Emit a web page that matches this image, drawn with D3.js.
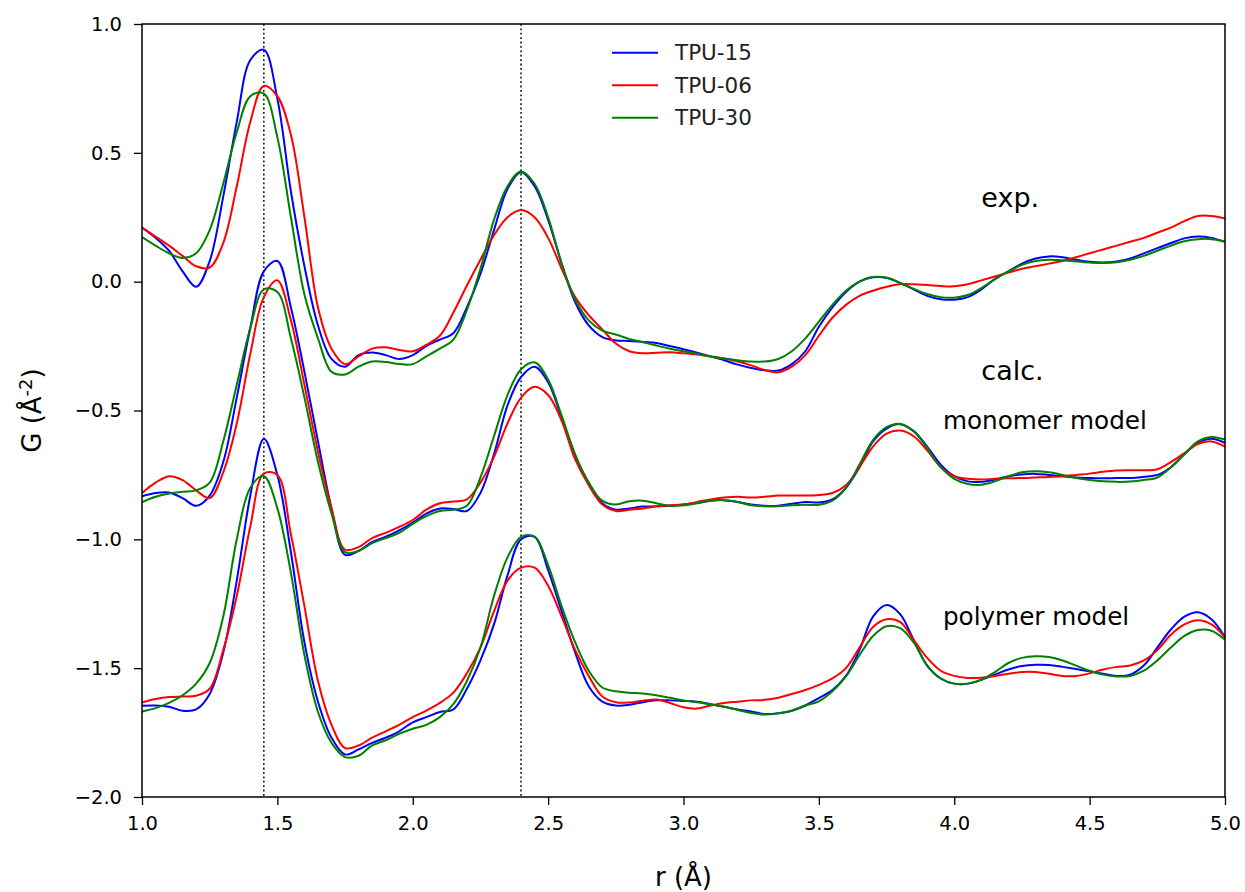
<!DOCTYPE html>
<html>
<head>
<meta charset="utf-8">
<script src="https://cdn.jsdelivr.net/npm/d3@7"></script>
<style>
    body { margin: 0; background: #fff; }
    svg { display: block; font-family: "DejaVu Sans", sans-serif; }
    .axis text { font-family: "DejaVu Sans", sans-serif; font-size: 19.5px; fill: #000; }
    .axis path { display: none; }
    .axis line { stroke: #000; stroke-width: 1.3; }
</style>
</head>
<body>
<svg id="chart" width="1245" height="892"></svg>
<script>

// 
// G(r) curves for three TPU samples: experiment, monomer model, polymer model.
// Values read off the reference picture, sampled every 0.05 Å.
// 

var r = [
    1.00, 1.05, 1.10, 1.15, 1.20, 1.25, 1.30, 1.35, 1.40, 1.45,
    1.50, 1.55, 1.60, 1.65, 1.70, 1.75, 1.80, 1.85, 1.90, 1.95,
    2.00, 2.05, 2.10, 2.15, 2.20, 2.25, 2.30, 2.35, 2.40, 2.45,
    2.50, 2.55, 2.60, 2.65, 2.70, 2.75, 2.80, 2.85, 2.90, 2.95,
    3.00, 3.05, 3.10, 3.15, 3.20, 3.25, 3.30, 3.35, 3.40, 3.45,
    3.50, 3.55, 3.60, 3.65, 3.70, 3.75, 3.80, 3.85, 3.90, 3.95,
    4.00, 4.05, 4.10, 4.15, 4.20, 4.25, 4.30, 4.35, 4.40, 4.45,
    4.50, 4.55, 4.60, 4.65, 4.70, 4.75, 4.80, 4.85, 4.90, 4.95,
    5.00
];

// experiment
var exp15 = [
    0.21, 0.17, 0.12, 0.04, -0.02, 0.08, 0.33, 0.62, 0.86, 0.90,
    0.71, 0.35, 0.06, -0.17, -0.30, -0.33, -0.285, -0.275, -0.285, -0.30,
    -0.285, -0.25, -0.225, -0.20, -0.10, 0.03, 0.20, 0.36, 0.425, 0.37,
    0.24, 0.07, -0.08, -0.17, -0.215, -0.228, -0.23, -0.234, -0.238, -0.25,
    -0.262, -0.276, -0.29, -0.305, -0.322, -0.335, -0.344, -0.345, -0.32, -0.27,
    -0.175, -0.10, -0.04, 0.00, 0.017, 0.015, -0.005, -0.03, -0.055, -0.068,
    -0.07, -0.06, -0.03, 0.01, 0.04, 0.07, 0.09, 0.098, 0.095, 0.085,
    0.077, 0.074, 0.078, 0.09, 0.11, 0.13, 0.15, 0.168, 0.175, 0.17,
    0.155
];
var exp06 = [
    0.21, 0.175, 0.14, 0.10, 0.06, 0.055, 0.15, 0.37, 0.62, 0.76,
    0.72, 0.57, 0.25, -0.10, -0.26, -0.32, -0.29, -0.26, -0.255, -0.265,
    -0.27, -0.245, -0.21, -0.12, -0.015, 0.085, 0.18, 0.25, 0.278, 0.25,
    0.17, 0.05, -0.06, -0.13, -0.185, -0.24, -0.27, -0.278, -0.276, -0.274,
    -0.278, -0.283, -0.29, -0.298, -0.31, -0.325, -0.343, -0.352, -0.33, -0.285,
    -0.21, -0.14, -0.09, -0.055, -0.035, -0.02, -0.01, -0.01, -0.013, -0.017,
    -0.018, -0.01, 0.005, 0.02, 0.035, 0.05, 0.06, 0.07, 0.08, 0.095,
    0.11, 0.125, 0.14, 0.155, 0.17, 0.19, 0.21, 0.235, 0.255, 0.255,
    0.245
];
var exp30 = [
    0.173, 0.14, 0.11, 0.092, 0.11, 0.20, 0.38, 0.58, 0.72, 0.73,
    0.56, 0.25, -0.05, -0.22, -0.35, -0.36, -0.33, -0.31, -0.312, -0.32,
    -0.32, -0.29, -0.26, -0.225, -0.11, 0.05, 0.24, 0.37, 0.428, 0.38,
    0.25, 0.07, -0.07, -0.15, -0.19, -0.205, -0.222, -0.235, -0.248, -0.26,
    -0.27, -0.28, -0.29, -0.298, -0.305, -0.31, -0.31, -0.30, -0.27, -0.22,
    -0.155, -0.09, -0.035, 0.00, 0.018, 0.015, -0.005, -0.028, -0.048, -0.06,
    -0.062, -0.052, -0.025, 0.01, 0.04, 0.065, 0.08, 0.085, 0.083, 0.078,
    0.074, 0.072, 0.075, 0.085, 0.10, 0.12, 0.14, 0.157, 0.165, 0.165,
    0.155
];

// calc., monomer model
var mono15 = [
    -0.833, -0.82, -0.818, -0.84, -0.87, -0.83, -0.70, -0.45, -0.18, 0.04,
    0.08, -0.10, -0.35, -0.62, -0.88, -1.06, -1.045, -1.01, -0.99, -0.965,
    -0.935, -0.90, -0.88, -0.882, -0.89, -0.82, -0.67, -0.48, -0.37, -0.33,
    -0.39, -0.53, -0.68, -0.78, -0.86, -0.885, -0.88, -0.873, -0.872, -0.87,
    -0.865, -0.858, -0.85, -0.848, -0.855, -0.865, -0.87, -0.87, -0.862, -0.855,
    -0.857, -0.845, -0.80, -0.72, -0.62, -0.57, -0.553, -0.58, -0.64, -0.71,
    -0.755, -0.775, -0.777, -0.768, -0.755, -0.748, -0.746, -0.75, -0.755, -0.76,
    -0.762, -0.763, -0.762, -0.762, -0.757, -0.75, -0.72, -0.67, -0.625, -0.61,
    -0.626
];
var mono06 = [
    -0.82, -0.78, -0.755, -0.77, -0.81, -0.84, -0.74, -0.55, -0.28, -0.06,
    0.005, -0.15, -0.40, -0.66, -0.88, -1.04, -1.03, -0.995, -0.975, -0.952,
    -0.925, -0.885, -0.86, -0.853, -0.845, -0.78, -0.68, -0.55, -0.45, -0.408,
    -0.44, -0.54, -0.69, -0.79, -0.865, -0.89, -0.885, -0.88, -0.872, -0.868,
    -0.865, -0.855, -0.845, -0.838, -0.835, -0.838, -0.835, -0.83, -0.83, -0.83,
    -0.828, -0.82, -0.79, -0.72, -0.64, -0.59, -0.578, -0.60, -0.655, -0.72,
    -0.755, -0.765, -0.768, -0.765, -0.763, -0.762, -0.76, -0.758, -0.755, -0.75,
    -0.745, -0.738, -0.733, -0.732, -0.732, -0.728, -0.70, -0.665, -0.63, -0.62,
    -0.64
];
var mono30 = [
    -0.856, -0.835, -0.822, -0.815, -0.81, -0.78, -0.62, -0.40, -0.18, -0.03,
    -0.04, -0.22, -0.45, -0.70, -0.90, -1.05, -1.045, -1.015, -0.995, -0.975,
    -0.94, -0.91, -0.89, -0.885, -0.87, -0.76, -0.60, -0.44, -0.34, -0.313,
    -0.38, -0.52, -0.67, -0.78, -0.85, -0.865, -0.852, -0.85, -0.86, -0.87,
    -0.868, -0.86, -0.85, -0.848, -0.855, -0.868, -0.872, -0.872, -0.868, -0.866,
    -0.866, -0.85, -0.80, -0.71, -0.615, -0.565, -0.552, -0.58, -0.645, -0.72,
    -0.765, -0.785, -0.788, -0.775, -0.755, -0.74, -0.736, -0.74, -0.75, -0.762,
    -0.77, -0.775, -0.777, -0.776, -0.77, -0.76, -0.72, -0.67, -0.62, -0.603,
    -0.613
];

// calc., polymer model
var poly15 = [
    -1.646, -1.645, -1.65, -1.665, -1.66, -1.60, -1.44, -1.16, -0.83, -0.61,
    -0.75, -1.05, -1.40, -1.63, -1.77, -1.835, -1.815, -1.79, -1.77, -1.745,
    -1.71, -1.69, -1.67, -1.66, -1.58, -1.47, -1.33, -1.14, -1.00, -0.99,
    -1.12, -1.28, -1.44, -1.57, -1.63, -1.645, -1.642, -1.632, -1.625, -1.625,
    -1.627, -1.63, -1.64, -1.65, -1.66, -1.668, -1.678, -1.675, -1.665, -1.645,
    -1.616, -1.585, -1.53, -1.43, -1.30, -1.255, -1.29, -1.39, -1.49, -1.54,
    -1.56, -1.56, -1.545, -1.525, -1.505, -1.492, -1.487, -1.488, -1.495, -1.503,
    -1.512, -1.522, -1.53, -1.525, -1.49, -1.42, -1.35, -1.30, -1.283, -1.31,
    -1.38
];
var poly06 = [
    -1.633, -1.62, -1.612, -1.61, -1.607, -1.58, -1.43, -1.22, -0.95, -0.745,
    -0.75, -0.98, -1.26, -1.55, -1.72, -1.81, -1.80, -1.77, -1.745, -1.72,
    -1.69, -1.665, -1.635, -1.595, -1.52, -1.42, -1.28, -1.16, -1.11, -1.11,
    -1.18, -1.30, -1.43, -1.53, -1.61, -1.632, -1.633, -1.626, -1.622, -1.635,
    -1.652, -1.657, -1.645, -1.635, -1.63, -1.625, -1.623, -1.615, -1.60, -1.585,
    -1.565, -1.54, -1.50, -1.42, -1.34, -1.31, -1.32, -1.39, -1.46, -1.51,
    -1.53, -1.538, -1.537, -1.53, -1.522, -1.515, -1.515, -1.522, -1.53, -1.53,
    -1.52, -1.505, -1.495, -1.49, -1.47, -1.43, -1.37, -1.33, -1.314, -1.33,
    -1.38
];
var poly30 = [
    -1.668, -1.655, -1.635, -1.605, -1.56, -1.48, -1.30, -1.00, -0.80, -0.755,
    -0.88, -1.13, -1.45, -1.67, -1.79, -1.845, -1.84, -1.80, -1.78, -1.755,
    -1.735, -1.72, -1.69, -1.64, -1.55, -1.42, -1.22, -1.07, -0.99, -0.99,
    -1.10, -1.26, -1.40, -1.51, -1.575, -1.59, -1.595, -1.598, -1.605, -1.615,
    -1.625, -1.632, -1.64, -1.65, -1.662, -1.674, -1.68, -1.675, -1.665, -1.645,
    -1.629, -1.59, -1.532, -1.45, -1.375, -1.337, -1.345, -1.40, -1.49, -1.54,
    -1.56, -1.56, -1.545, -1.515, -1.48, -1.46, -1.454, -1.457, -1.47, -1.49,
    -1.51, -1.525, -1.532, -1.53, -1.51, -1.47, -1.42, -1.375, -1.352, -1.355,
    -1.39
];

var samples = ['TPU-15', 'TPU-06', 'TPU-30'];
var colors = ['#0000ff', '#ff0000', '#008000'];
var groups = [[exp15, exp06, exp30], [mono15, mono06, mono30], [poly15, poly06, poly30]];

var xTicks = [1.0, 1.5, 2.0, 2.5, 3.0, 3.5, 4.0, 4.5, 5.0];
var yTicks = [1.0, 0.5, 0.0, -0.5, -1.0, -1.5, -2.0];
var guideLines = [1.45, 2.40];

var notes = [
    {text: 'exp.', r: 4.10, g: 0.29, size: 27},
    {text: 'calc.', r: 4.10, g: -0.38, size: 27},
    {text: 'monomer model', r: 3.958, g: -0.572, size: 24.7},
    {text: 'polymer model', r: 3.958, g: -1.332, size: 24.7}
];

var margin = {left: 142, top: 24, right: 20, bottom: 95},
    width = 1245 - margin.left - margin.right,
    height = 892 - margin.top - margin.bottom;

var svg = d3.select('#chart'),
    plot = svg.append('g').attr('transform', 'translate(' + margin.left + ',' + margin.top + ')');

var x = d3.scaleLinear().domain([1, 5]).range([0, width]),
    y = d3.scaleLinear().domain([-2, 1]).range([height, 0]);

svg.append('defs').append('clipPath').attr('id', 'clip')
    .append('rect').attr('width', width).attr('height', height);

// axes
plot.append('g')
    .attr('class', 'axis')
    .attr('transform', 'translate(0,' + height + ')')
    .call(d3.axisBottom(x).tickValues(xTicks).tickFormat(d3.format('.1f')).tickSize(8).tickPadding(11));

plot.append('g')
    .attr('class', 'axis')
    .call(d3.axisLeft(y).tickValues(yTicks).tickFormat(d3.format('.1f')).tickSize(8).tickPadding(12));

var curves = plot.append('g').attr('clip-path', 'url(#clip)');

// dotted guide lines at the first two neighbour distances
curves.selectAll('line.guide')
    .data(guideLines)
    .enter().append('line')
    .attr('class', 'guide')
    .attr('x1', function(d) { return x(d) })
    .attr('x2', function(d) { return x(d) })
    .attr('y1', 0)
    .attr('y2', height)
    .attr('stroke', '#000')
    .attr('stroke-width', 1.5)
    .attr('stroke-dasharray', '1.8,2.6');

var line = d3.line()
    .x(function(d) { return x(d[0]) })
    .y(function(d) { return y(d[1]) })
    .curve(d3.curveCatmullRom.alpha(0.5));

groups.forEach(function(series)
{
    series.forEach(function(values, i)
    {
        curves.append('path')
            .datum(d3.zip(r, values))
            .attr('d', line)
            .attr('fill', 'none')
            .attr('stroke', colors[i])
            .attr('stroke-width', 2);
    });
});

// frame
plot.append('rect')
    .attr('width', width)
    .attr('height', height)
    .attr('fill', 'none')
    .attr('stroke', '#000')
    .attr('stroke-width', 1.5);

// legend
var legend = plot.append('g').attr('transform', 'translate(470,28.7)');

samples.forEach(function(name, i)
{
    var row = legend.append('g').attr('transform', 'translate(0,' + (i * 32.5) + ')');
    row.append('line')
        .attr('x1', 0).attr('x2', 46)
        .attr('stroke', colors[i])
        .attr('stroke-width', 2);
    row.append('text')
        .attr('x', 63)
        .attr('dy', '0.36em')
        .attr('font-size', 21.5)
        .attr('fill', '#222')
        .text(name);
});

// group labels
plot.selectAll('text.note')
    .data(notes)
    .enter().append('text')
    .attr('class', 'note')
    .attr('x', function(d) { return x(d.r) })
    .attr('y', function(d) { return y(d.g) })
    .attr('font-size', function(d) { return d.size })
    .text(function(d) { return d.text });

// axis titles
svg.append('text')
    .attr('x', margin.left + width / 2)
    .attr('y', 886)
    .attr('text-anchor', 'middle')
    .attr('font-size', 26)
    .text('r (Å)');

var ytitle = svg.append('text')
    .attr('transform', 'translate(41,' + (margin.top + height / 2) + ') rotate(-90)')
    .attr('text-anchor', 'middle')
    .attr('font-size', 26);
ytitle.append('tspan').text('G (Å');
ytitle.append('tspan').attr('dy', -9).attr('font-size', 18).text('-2');
ytitle.append('tspan').attr('dy', 9).text(')');

</script>
</body>
</html>
